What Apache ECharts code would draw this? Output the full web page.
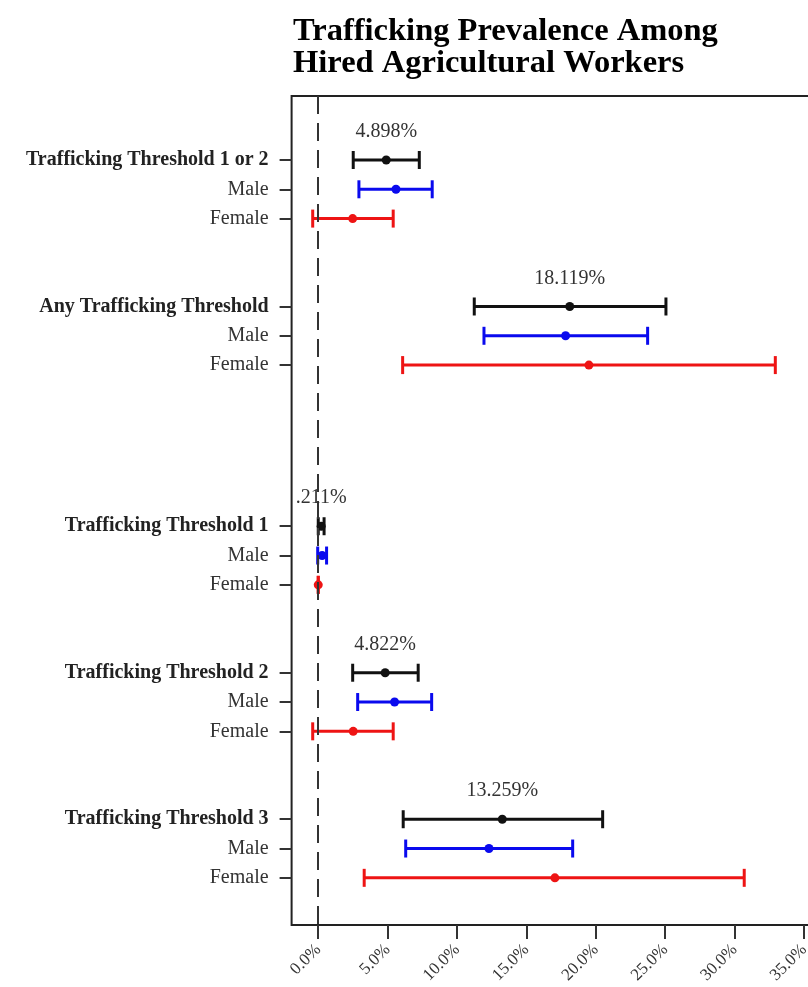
<!DOCTYPE html>
<html>
<head>
<meta charset="utf-8">
<title>Trafficking Prevalence Among Hired Agricultural Workers</title>
<script src="https://cdn.jsdelivr.net/npm/echarts@6/dist/echarts.min.js"></script>
<style>
  html, body { margin: 0; padding: 0; background: #fff; }
  #chart { width: 808px; height: 987px; }
</style>
</head>
<body>
<div id="chart"></div>
<script>
// ---- data: prevalence estimates (%) with 95% confidence limits ----
const groups = [
  'Trafficking Threshold 1 or 2',
  'Any Trafficking Threshold',
  'Trafficking Threshold 1',
  'Trafficking Threshold 2',
  'Trafficking Threshold 3'
];
const subgroups = ['Male', 'Female'];

const overallEst = [4.898, 18.119, 0.211, 4.822, 13.259];
const overallLo  = [2.52, 11.24, 0.00, 2.48, 6.12];
const overallHi  = [7.28, 25.05, 0.42, 7.20, 20.49];

const maleEst = [5.60, 17.82, 0.28, 5.50, 12.30];
const maleLo  = [2.93, 11.94, -0.04, 2.84, 6.30];
const maleHi  = [8.21, 23.73, 0.60, 8.17, 18.33];

const femaleEst = [2.48, 19.50, 0.00, 2.52, 17.05];
const femaleLo  = [-0.40, 6.08, 0.00, -0.40, 3.31];
const femaleHi  = [5.40, 32.93, 0.00, 5.40, 30.69];

const xTicks = [0, 5, 10, 15, 20, 25, 30, 35];

// ---- layout: vertical slot where each block of three rows starts ----
const blockStart = [0, 5, 12.5, 17.5, 22.5];

const SERIF = '"Liberation Serif", "DejaVu Serif", serif';
const COL_ALL = '#111111';
const COL_MALE = '#0a0aee';
const COL_FEMALE = '#ee1414';

// row lookup for the y-axis labels
const rowLabel = {};
const slots = [];
groups.forEach((g, i) => {
  const base = blockStart[i];
  [[g, true], [subgroups[0], false], [subgroups[1], false]].forEach(([txt, head], k) => {
    const s = base + k;
    slots.push(s);
    rowLabel[Math.round(s * 2)] = { txt, head };
  });
});

function rows(est, lo, hi, offset) {
  return est.map((e, i) => [e, lo[i], hi[i], blockStart[i] + offset]);
}
const allRows = rows(overallEst, overallLo, overallHi, 0);
const maleRows = rows(maleEst, maleLo, maleHi, 1);
const femaleRows = rows(femaleEst, femaleLo, femaleHi, 2);

function ciSeries(data, color) {
  return {
    type: 'custom',
    data: data,
    encode: { x: [1, 2], y: 3 },
    z: 3,
    renderItem: function (params, api) {
      const y = api.value(3);
      const a = api.coord([api.value(1), y]);
      const b = api.coord([api.value(2), y]);
      const cap = 9;
      const st = { stroke: color, lineWidth: 3 };
      return {
        type: 'group',
        children: [
          { type: 'line', shape: { x1: a[0], y1: a[1], x2: b[0], y2: b[1] }, style: st },
          { type: 'line', shape: { x1: a[0], y1: a[1] - cap, x2: a[0], y2: a[1] + cap }, style: st },
          { type: 'line', shape: { x1: b[0], y1: b[1] - cap, x2: b[0], y2: b[1] + cap }, style: st }
        ]
      };
    }
  };
}

function pointSeries(data, color, withLabel) {
  const s = {
    type: 'scatter',
    data: data,
    encode: { x: 0, y: 3 },
    symbol: 'circle',
    symbolSize: 9,
    itemStyle: { color: color, opacity: 1 },
    z: 4
  };
  if (withLabel) {
    s.label = {
      show: true,
      position: 'inside',
      offset: [0, -28],
      fontFamily: SERIF,
      fontSize: 20,
      color: '#333',
      formatter: p => p.value[0].toFixed(3).replace(/^0\./, '.') + '%'
    };
  }
  return s;
}

const PX_PER_UNIT = 13.88;
const X_MIN = -1.92, X_MAX = 36;
const Y_MIN = -2.184, Y_MAX = 26.11;

const chart = echarts.init(document.getElementById('chart'), null, { renderer: 'canvas' });
chart.setOption({
  backgroundColor: '#fff',
  animation: false,
  title: {
    text: 'Trafficking Prevalence Among\nHired Agricultural Workers',
    left: 293,
    top: 16,
    padding: 0,
    textStyle: {
      fontFamily: SERIF,
      fontWeight: 'bold',
      fontSize: 32.5,
      lineHeight: 32,
      color: '#000'
    }
  },
  grid: {
    left: 291.6,
    top: 96,
    width: (X_MAX - X_MIN) * PX_PER_UNIT,
    height: 829,
    containLabel: false,
    outerBoundsMode: 'none',
    show: true,
    borderColor: '#222',
    borderWidth: 2,
    backgroundColor: 'transparent'
  },
  xAxis: {
    type: 'value',
    min: X_MIN,
    max: X_MAX,
    splitLine: { show: false },
    axisLine: { show: false, onZero: false },
    axisTick: {
      show: true,
      customValues: xTicks,
      length: 14,
      inside: false,
      lineStyle: { color: '#333', width: 2 }
    },
    axisLabel: {
      customValues: xTicks,
      rotate: 45,
      margin: 22,
      fontFamily: SERIF,
      fontSize: 17,
      color: '#333',
      formatter: v => v.toFixed(1) + '%'
    }
  },
  yAxis: {
    type: 'value',
    inverse: true,
    min: Y_MIN,
    max: Y_MAX,
    splitLine: { show: false },
    axisLine: { show: false, onZero: false },
    axisTick: {
      show: true,
      customValues: slots,
      length: 12,
      lineStyle: { color: '#333', width: 2 }
    },
    axisLabel: {
      customValues: slots,
      margin: 23,
      formatter: v => {
        const r = rowLabel[Math.round(v * 2)];
        if (!r) return '';
        return r.head ? '{h|' + r.txt + '}' : '{s|' + r.txt + '}';
      },
      rich: {
        h: { fontFamily: SERIF, fontWeight: 'bold', fontSize: 20, color: '#222' },
        s: { fontFamily: SERIF, fontSize: 20, color: '#333' }
      }
    }
  },
  series: [
    {
      type: 'scatter',
      data: [],
      silent: true,
      markLine: {
        silent: true,
        symbol: 'none',
        label: { show: false },
        lineStyle: { color: '#333', width: 2, type: [18, 9] },
        data: [{ xAxis: 0 }]
      }
    },
    ciSeries(allRows, COL_ALL),
    ciSeries(maleRows, COL_MALE),
    ciSeries(femaleRows, COL_FEMALE),
    pointSeries(allRows, COL_ALL, true),
    pointSeries(maleRows, COL_MALE, false),
    pointSeries(femaleRows, COL_FEMALE, false)
  ]
});
</script>
</body>
</html>
